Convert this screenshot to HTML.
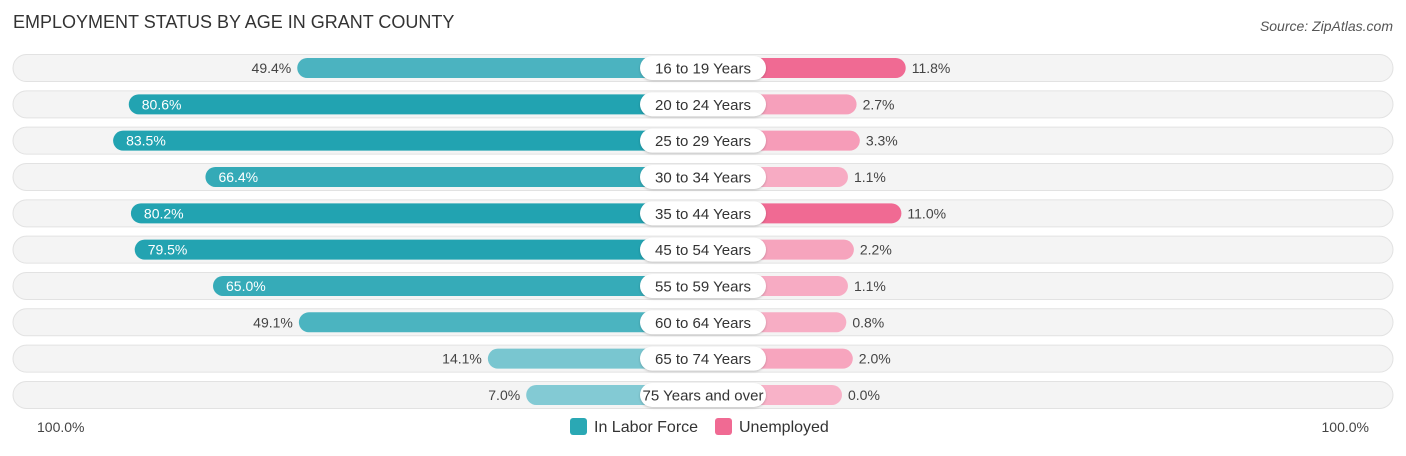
<!DOCTYPE html>
<html><head><meta charset="utf-8"><style>
body{margin:0;background:#fff;font-family:"Liberation Sans",sans-serif;}
svg text{font-family:"Liberation Sans",sans-serif;}
</style></head><body>
<svg id="c" width="1406" height="451">
<text x="13" y="28" font-size="18" fill="#333">EMPLOYMENT STATUS BY AGE IN GRANT COUNTY</text>
<text x="1393" y="31" font-size="14" fill="#555" font-style="italic" text-anchor="end">Source: ZipAtlas.com</text>
<g id="rows"></g>
<text x="37" y="432" font-size="14" fill="#444">100.0%</text>
<text x="1369" y="432" font-size="14" fill="#444" text-anchor="end">100.0%</text>
<g><rect x="570" y="418" width="17" height="17" rx="3" fill="#2aa8b4"/><text x="594" y="432" font-size="16" fill="#333">In Labor Force</text></g>
<g><rect x="715" y="418" width="17" height="17" rx="3" fill="#f06a93"/><text x="739" y="432" font-size="16" fill="#333">Unemployed</text></g>
</svg>
<script>
const categories=["16 to 19 Years","20 to 24 Years","25 to 29 Years","30 to 34 Years","35 to 44 Years","45 to 54 Years","55 to 59 Years","60 to 64 Years","65 to 74 Years","75 Years and over"];
const laborForce=[49.4,80.6,83.5,66.4,80.2,79.5,65.0,49.1,14.1,7.0];
const unemployed=[11.8,2.7,3.3,1.1,11.0,2.2,1.1,0.8,2.0,0.0];
const NS="http://www.w3.org/2000/svg";
const cx=703, off=64, k=5.4, y0=68, dy=36.33;
function xL(v){return cx-off-75-k*v+75;}
function wL(v){return off+75+k*v-64;}
function mix(a,b,t){t=Math.max(0,Math.min(1,t));return "rgb("+a.map((x,i)=>Math.round(x+(b[i]-x)*t)).join(",")+")";}
function mk(tag,attrs,parent){const e=document.createElementNS(NS,tag);for(const a in attrs)e.setAttribute(a,attrs[a]);parent.appendChild(e);return e;}
const g=document.getElementById("rows");
categories.forEach((c,i)=>{
  const y=y0+i*dy;
  const row=mk("g",{},g);
  
  
  const bg=mk("rect",{x:13,y:y-13.5,width:1380,height:27,rx:13.5,fill:"#f4f4f4",stroke:"#e2e2e2"},row);
  
  
  const lv=laborForce[i], uv=unemployed[i];
  const lw=139+k*lv;
  const lb=mk("rect",{x:cx-lw,y:y-10,width:lw,height:20,rx:10,fill:mix([140,206,215],[34,163,177],lv/80)},row);
  
  
  const uw=139+k*uv;
  const ub=mk("rect",{x:cx,y:y-10,width:uw,height:20,rx:10,fill:mix([248,178,200],[240,106,147],uv/11)},row);
  
  
  const inside=lv>60;
  const lt=mk("text",{x:inside?cx-lw+13:cx-lw-6,y:y+5,"font-size":14,fill:inside?"#fff":"#444","text-anchor":inside?"start":"end"},row);
  lt.textContent=lv.toFixed(1)+"%";
  
  
  const ut=mk("text",{x:cx+uw+6,y:y+5,"font-size":14,fill:"#444"},row);
  ut.textContent=uv.toFixed(1)+"%";
  
  
  const pill=mk("rect",{x:cx-63,y:y-12,width:126,height:24,rx:12,fill:"#fff",style:"filter:drop-shadow(0 1px 1px rgba(0,0,0,0.2))"},row);
  
  
  const ct=mk("text",{x:cx,y:y+5.5,"font-size":15,fill:"#333","text-anchor":"middle"},row);
  ct.textContent=c;
  
  
});
</script>
</body></html>
